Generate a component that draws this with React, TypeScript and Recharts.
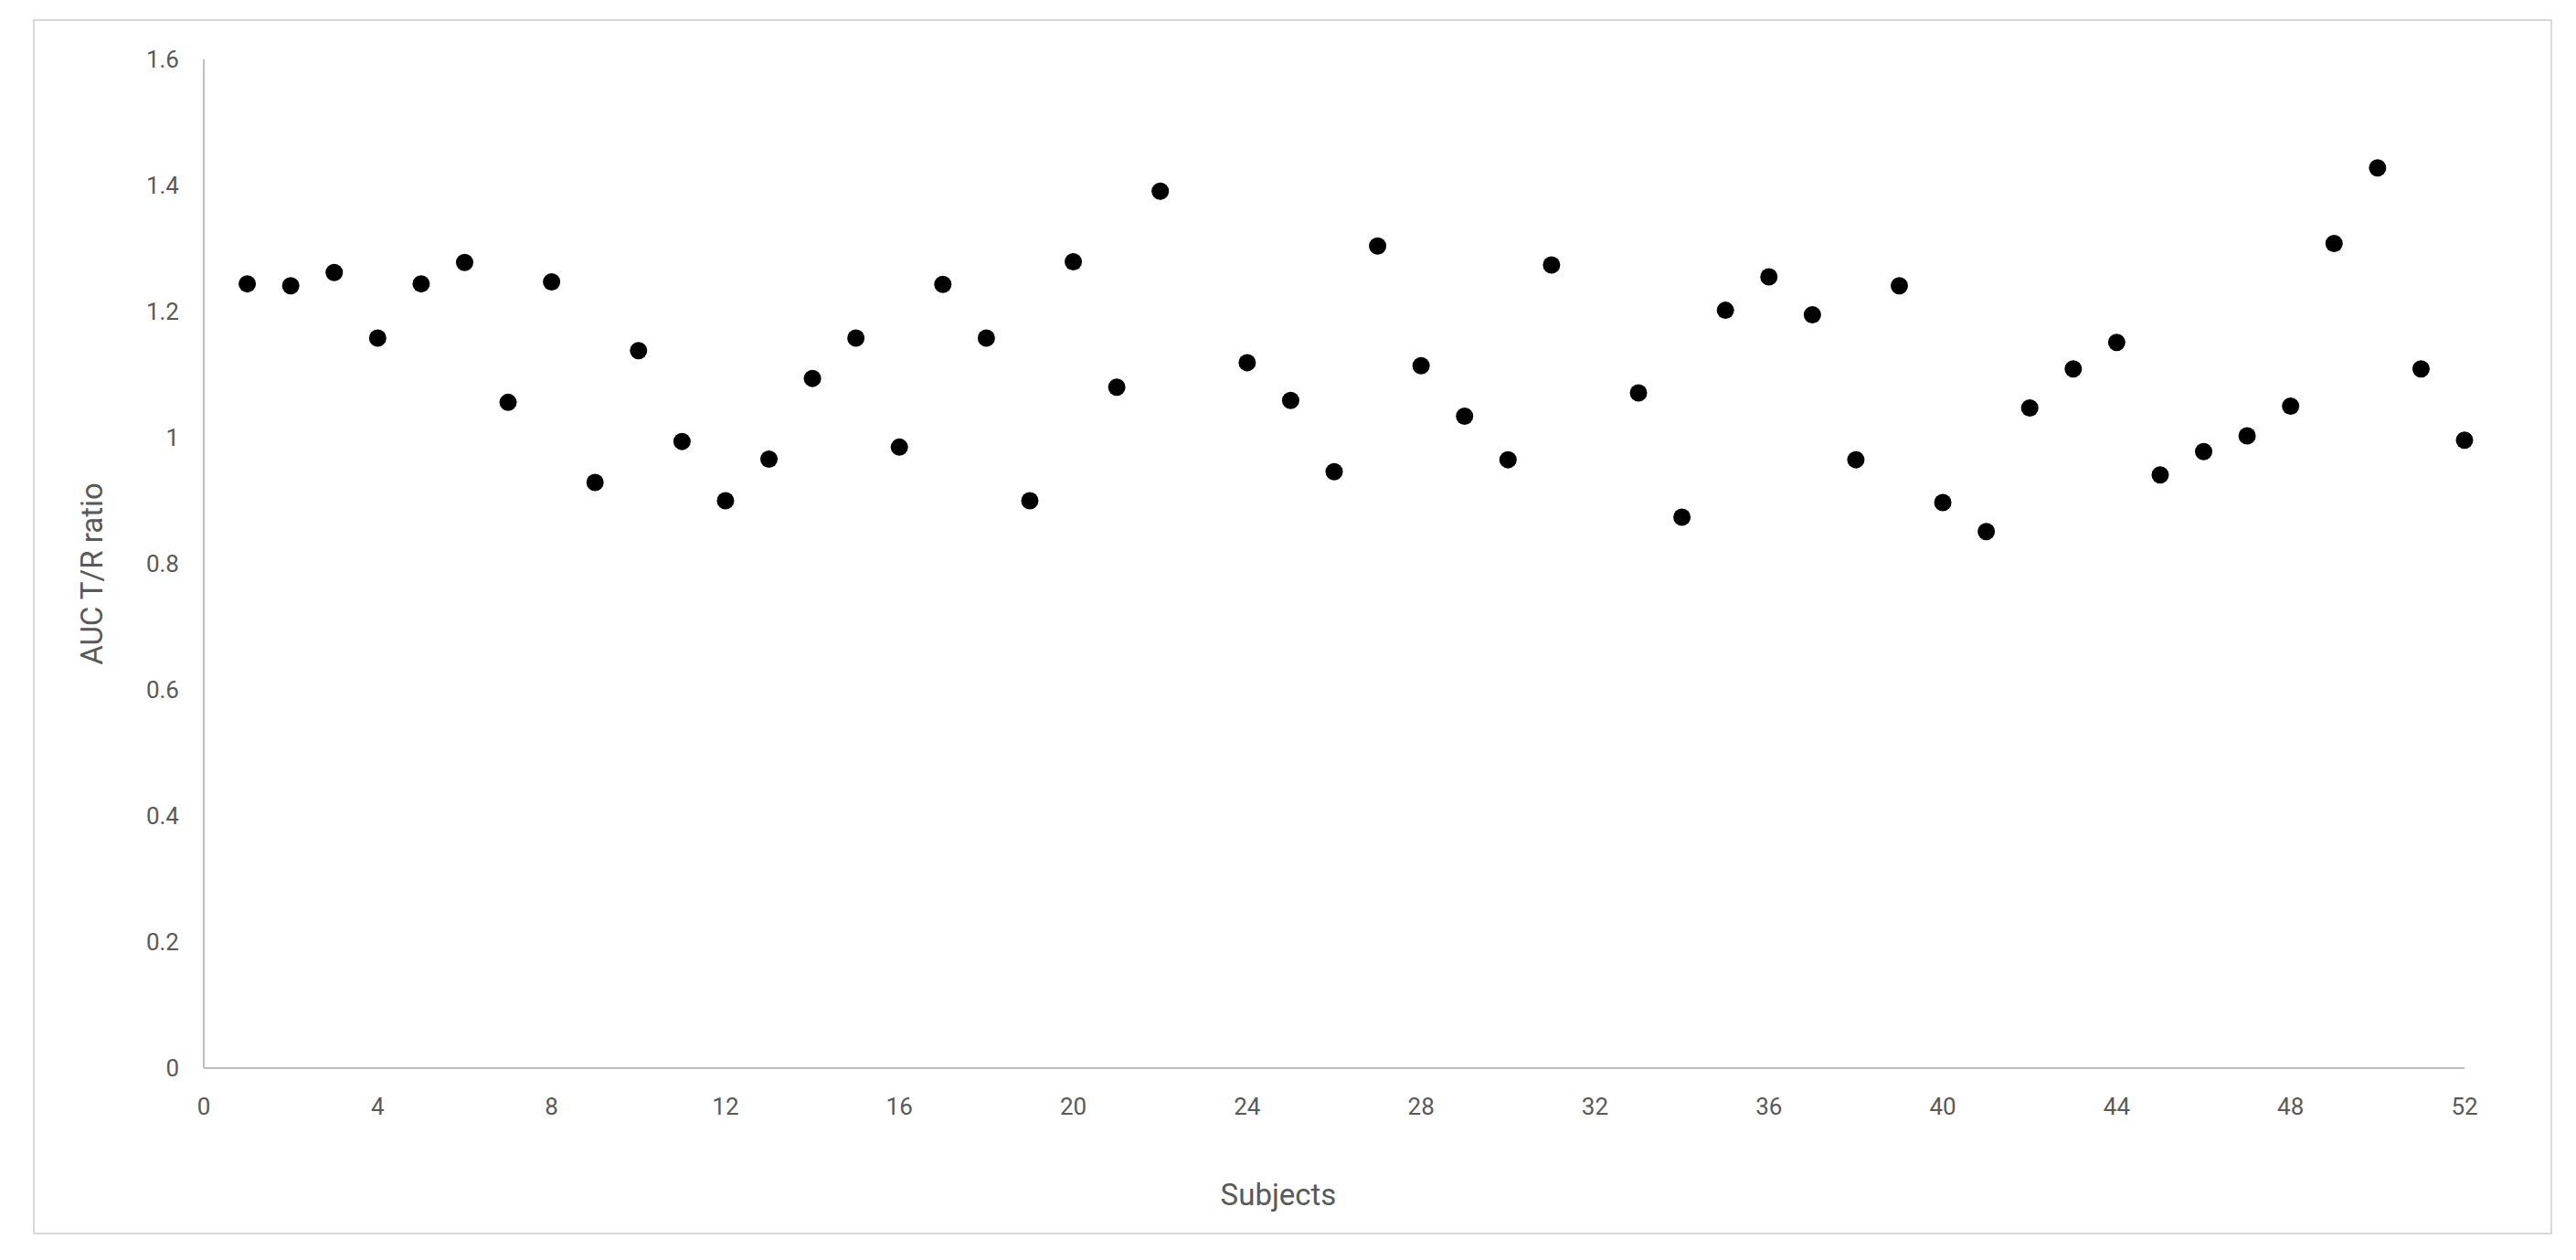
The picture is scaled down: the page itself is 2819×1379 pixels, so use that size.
import { ScatterChart, Scatter, XAxis, YAxis, Label } from "recharts";

const subjects = [
  1, 2, 3, 4, 5, 6, 7, 8, 9, 10, 11, 12, 13, 14, 15, 16, 17, 18, 19, 20, 21, 22,
  24, 25, 26, 27, 28, 29, 30, 31, 33, 34, 35, 36, 37, 38, 39, 40, 41, 42, 43, 44,
  45, 46, 47, 48, 49, 50, 51, 52,
];

const aucRatio = [
  1.244, 1.241, 1.262, 1.158, 1.244, 1.278, 1.056, 1.247, 0.929, 1.138, 0.994,
  0.9, 0.966, 1.094, 1.158, 0.985, 1.243, 1.158, 0.9, 1.279, 1.08, 1.391, 1.119,
  1.059, 0.946, 1.304, 1.114, 1.034, 0.965, 1.274, 1.071, 0.874, 1.202, 1.255,
  1.195, 0.965, 1.241, 0.897, 0.851, 1.047, 1.109, 1.151, 0.941, 0.978, 1.003,
  1.05, 1.308, 1.428, 1.109, 0.996,
];

const xTicks = [0, 4, 8, 12, 16, 20, 24, 28, 32, 36, 40, 44, 48, 52];
const yTicks = [0, 0.2, 0.4, 0.6, 0.8, 1, 1.2, 1.4, 1.6];

const data = subjects.map((s, i) => ({ x: s, y: aucRatio[i] }));

const tickStyle = { fill: "#595959", fontSize: 26 };

const Dot = (props: any) => {
  const { cx, cy } = props;
  return <circle cx={cx} cy={cy} r={9.5} fill="#000000" />;
};

const App = () => {
  return (
    <div
      style={{
        position: "relative",
        width: 2803,
        height: 1363,
        fontFamily: "Roboto, 'Open Sans', sans-serif",
        background: "#fff",
      }}
    >
      <div
        style={{
          position: "absolute",
          left: 28,
          top: 13,
          width: 2757,
          height: 1330,
          border: "2px solid #d9d9d9",
          boxSizing: "border-box",
        }}
      />
      <div style={{ position: "absolute", left: 0, top: 0 }}>
        <ScatterChart
          width={2800}
          height={1360}
          margin={{ top: 57, right: 111, bottom: 139, left: 0 }}
        >
          <XAxis
            type="number"
            dataKey="x"
            domain={[0, 52]}
            ticks={xTicks}
            interval={0}
            height={60}
            tickLine={false}
            tickSize={0}
            tickMargin={33}
            axisLine={{ stroke: "#bfbfbf", strokeWidth: 2 }}
            tick={tickStyle}
          >
            <Label
              content={() => (
                <text
                  x={1391}
                  y={1311}
                  textAnchor="middle"
                  fill="#595959"
                  fontSize={33}
                >
                  Subjects
                </text>
              )}
            />
          </XAxis>
          <YAxis
            type="number"
            dataKey="y"
            domain={[0, 1.6]}
            ticks={yTicks}
            interval={0}
            width={215}
            tickLine={false}
            tickSize={0}
            tickMargin={27}
            axisLine={{ stroke: "#bfbfbf", strokeWidth: 2 }}
            tick={tickStyle}
          >
            <Label
              content={() => (
                <text
                  x={92}
                  y={620}
                  transform="rotate(-90 92 620)"
                  textAnchor="middle"
                  dominantBaseline="central"
                  fill="#595959"
                  fontSize={33}
                >
                  AUC T/R ratio
                </text>
              )}
            />
          </YAxis>
          <Scatter data={data} shape={Dot} isAnimationActive={false} />
        </ScatterChart>
      </div>
    </div>
  );
};

export default App;
